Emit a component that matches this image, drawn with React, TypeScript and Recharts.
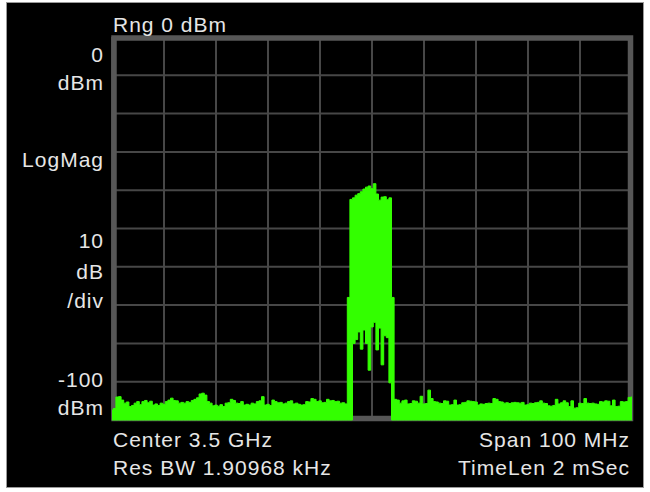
import { AreaChart, Area, XAxis, YAxis, CartesianGrid, ReferenceArea } from "recharts";

// sweep: center 3.5 GHz, span 100 MHz, one bin every 0.5 MHz
const START_MHZ = 3450;
const STEP_MHZ = 0.5;

const freqTicks = [3450, 3460, 3470, 3480, 3490, 3500, 3510, 3520, 3530, 3540, 3550];
const levelTicks = [-100, -90, -80, -70, -60, -50, -40, -30, -20, -10, 0];

// upper envelope of the trace (dBm)
const peakDbm = [
  -97.4, -97.0, -94.0, -93.9, -94.8, -95.6, -95.3, -96.5, -96.2, -95.6,
  -95.2, -96.0, -95.2, -94.9, -95.5, -95.1, -96.1, -95.8, -96.2, -95.6,
  -95.9, -95.2, -94.8, -94.3, -94.9, -95.0, -95.6, -95.4, -95.6, -95.2,
  -95.4, -94.9, -94.6, -94.2, -93.2, -93.0, -93.5, -95.2, -95.6, -96.3,
  -96.1, -96.4, -96.0, -96.5, -95.6, -95.5, -94.6, -94.9, -95.6, -95.7,
  -95.2, -96.1, -95.9, -96.1, -95.6, -95.8, -95.2, -95.0, -93.9, -96.1,
  -95.9, -96.2, -94.8, -95.2, -95.5, -95.4, -95.8, -95.6, -95.2, -95.0,
  -95.8, -95.6, -95.9, -96.1, -96.0, -95.2, -95.3, -94.4, -94.6, -95.2,
  -95.0, -95.5, -95.4, -94.6, -95.0, -94.9, -95.2, -95.1, -95.6, -95.5,
  -95.8, -68.0, -42.4, -42.0, -41.3, -40.9, -40.4, -39.7, -39.2, -38.9,
  -39.6, -38.3, -41.0, -42.6, -41.8, -41.7, -42.5, -42.0, -68.0, -94.6,
  -94.8, -95.6, -95.0, -94.8, -95.8, -95.7, -95.0, -95.1, -95.6, -93.8,
  -95.8, -95.7, -92.2, -94.4, -95.2, -95.3, -95.6, -95.7, -95.0, -95.1,
  -96.1, -96.0, -94.8, -96.1, -96.0, -95.5, -95.4, -95.0, -95.1, -95.2,
  -95.3, -96.1, -95.8, -95.9, -95.7, -95.6, -95.7, -94.4, -94.6, -95.2,
  -95.3, -95.6, -95.5, -95.7, -95.5, -95.4, -95.5, -95.6, -95.4, -96.1,
  -96.0, -95.6, -95.7, -95.5, -95.4, -95.0, -95.6, -95.7, -96.3, -96.4,
  -96.2, -94.6, -95.8, -95.5, -95.0, -95.5, -96.5, -95.0, -96.9, -96.8,
  -95.6, -95.7, -94.4, -95.6, -95.7, -95.6, -95.8, -95.9, -95.2, -95.3,
  -95.0, -95.1, -96.3, -94.8, -96.5, -96.4, -95.2, -95.3, -95.2, -94.1,
  -94.0,
];

// lower envelope: noise fills to the bottom, the carrier leaves a gap below
const NOISE_FLOOR_DBM = -100;
const BAND_FIRST_BIN = 91;
const bandLowDbm = [
  -100, -100, -80, -79, -77, -81.5, -76.5, -80, -87, -75.7,
  -74.5, -81.7, -76, -85.6, -78, -78.5, -90.3, -100,
];

const leftLabels = ["0", "dBm", "LogMag", "10", "dB", "/div", "-100", "dBm"];
const leftBaselines = [62, 90, 167, 248, 279, 308, 387, 415];

const data = peakDbm.map((high, i) => {
  const j = i - BAND_FIRST_BIN;
  const low = j >= 0 && j < bandLowDbm.length ? bandLowDbm[j] : NOISE_FLOOR_DBM;
  return { f: START_MHZ + i * STEP_MHZ, level: [low, high] };
});

const GREEN = "#33ff00";
const TEXT = "#e6e6e6";

const Frame = (props: any) => {
  const { x, y, width, height } = props;
  return (
    <rect
      x={x + 2}
      y={y + 1}
      width={width - 3.5}
      height={height - 2.5}
      fill="none"
      stroke="#575757"
      strokeWidth={5.5}
    />
  );
};

export default function App() {
  const font = {
    fontFamily: "'Liberation Sans', Arial, sans-serif",
    fontSize: 21,
    letterSpacing: 1,
    fill: TEXT,
  };

  return (
    <div style={{ position: "fixed", left: 0, top: 0, width: 650, height: 492, background: "#fff" }}>
      <div
        style={{
          position: "absolute",
          left: 6,
          top: 2,
          width: 636,
          height: 484,
          background: "#000",
          border: "1px solid #9a9a9a",
        }}
      />

      <div style={{ position: "absolute", left: 0, top: 0 }}>
        <AreaChart
          width={650}
          height={492}
          data={data}
          margin={{ top: 37, right: 18, bottom: 72, left: 112 }}
        >
          <XAxis dataKey="f" type="number" domain={[3450, 3550]} ticks={freqTicks} hide />
          <YAxis type="number" domain={[-100, 0]} ticks={levelTicks} hide />
          <CartesianGrid stroke="#474747" strokeWidth={2} />
          <ReferenceArea
            x1={3450}
            x2={3550}
            y1={-100}
            y2={0}
            shape={Frame}
            zIndex={50}
          />
          <Area
            type="step"
            dataKey="level"
            stroke={GREEN}
            strokeWidth={1}
            fill={GREEN}
            fillOpacity={1}
            dot={false}
            activeDot={false}
            isAnimationActive={false}
          />
        </AreaChart>
      </div>

      <svg width={650} height={492} style={{ position: "absolute", left: 0, top: 0 }}>
        <text x={113} y={32} {...font}>Rng 0 dBm</text>
        {leftLabels.map((t, i) => (
          <text key={i} x={104} y={leftBaselines[i]} textAnchor="end" {...font}>
            {t}
          </text>
        ))}
        <text x={113} y={447} {...font}>Center 3.5 GHz</text>
        <text x={113} y={475} {...font}>Res BW 1.90968 kHz</text>
        <text x={630} y={447} textAnchor="end" {...font}>Span 100 MHz</text>
        <text x={630} y={475} textAnchor="end" {...font}>TimeLen 2 mSec</text>
      </svg>
    </div>
  );
}
